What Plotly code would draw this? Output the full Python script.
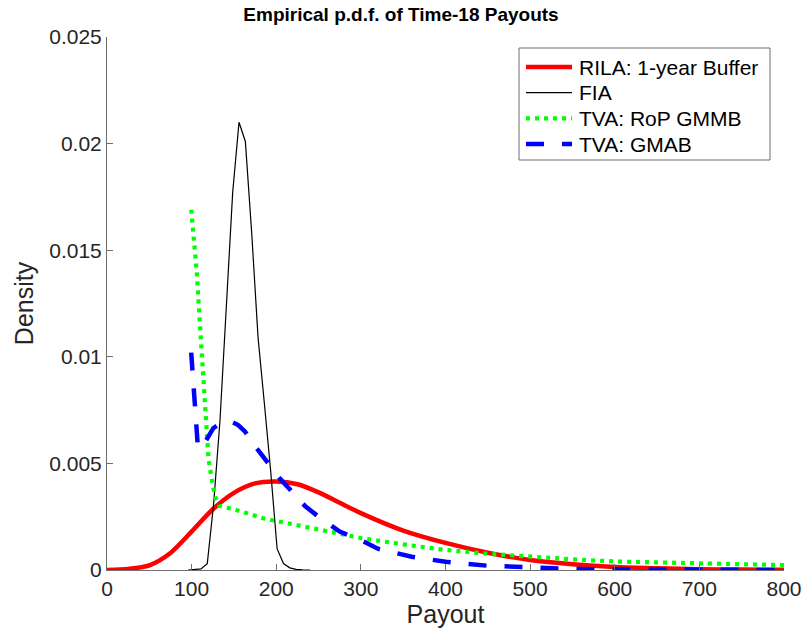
import plotly.graph_objects as go

# values
rila_x = [0, 25, 50, 75, 100, 125, 150, 175, 200, 225, 250, 275, 300, 350, 400,
          450, 500, 550, 600, 650, 700, 750, 800]
rila_y = [0, 0.00005, 0.00022, 0.00080, 0.00180, 0.00285, 0.00362, 0.00406, 0.00415,
          0.00402, 0.00364, 0.00315, 0.00267, 0.00185, 0.00127, 0.00081, 0.00047,
          0.00027, 0.00014, 0.00008, 0.00004, 0.00002, 0.00001]

fia_x = [96, 103.5, 111, 118.5, 126, 133.5, 141, 148.5, 156, 163.5, 171, 178.5, 186,
         193.5, 201, 208.5, 216, 223.5, 231, 240]
fia_y = [0, 0.00001, 0.00005, 0.0003, 0.0031, 0.0070, 0.0122, 0.0177, 0.0210, 0.0201,
         0.0158, 0.0109, 0.0078, 0.0046, 0.0010, 0.0003, 0.0001, 0.00003, 0.00001, 0]

rop_x = [99.5, 103, 106, 110, 113, 117, 120, 124, 128, 133, 150, 185, 225, 260, 300,
         350, 400, 450, 500, 550, 600, 650, 700, 750, 800]
rop_y = [0.0169, 0.0155, 0.0140, 0.0114, 0.0094, 0.0068, 0.0052, 0.0042, 0.0034,
         0.0030, 0.00285, 0.00242, 0.0021, 0.0018, 0.0015, 0.0012, 0.00094, 0.00076,
         0.00062, 0.0005, 0.0004, 0.00035, 0.0003, 0.00026, 0.00023]

gmab_x = [99.5, 103, 107.5, 116, 125.6, 135, 145, 155, 163, 177, 189, 204, 218, 234,
          250, 275, 300, 320, 360, 400, 450, 500, 550, 600, 700, 800]
gmab_y = [0.0102, 0.0082, 0.0057, 0.0060, 0.00665, 0.0069, 0.0070, 0.0068, 0.0065,
          0.0057, 0.0051, 0.0043, 0.0037, 0.0030, 0.0025, 0.0018, 0.0014, 0.0010,
          0.00062, 0.00039, 0.0002, 0.0001, 0.00005, 0.00003, 0.00001, 0]

y_ticks = [0, 0.005, 0.01, 0.015, 0.02, 0.025]
y_labels = ["0", "0.005", "0.01", "0.015", "0.02", "0.025"]
x_ticks = [0, 100, 200, 300, 400, 500, 600, 700, 800]

font = "Liberation Sans, Arial, sans-serif"
ink = "#262626"
axis_grey = "#6e6e6e"

W, H = 802, 635
L, R, T, B = 107, 18, 37, 65
pw, ph = W - L - R, H - T - B


def px_x(p):  # pixel column -> paper x
    return (p - L) / pw


def px_y(p):  # pixel row -> paper y
    return (H - B - p) / ph


series = [
    ("RILA: 1-year Buffer", rila_x, rila_y, dict(color="#ff0000", width=4.5, shape="spline", smoothing=0.8)),
    ("FIA", fia_x, fia_y, dict(color="#000000", width=1.2)),
    ("TVA: RoP GMMB", rop_x, rop_y, dict(color="#00ff00", width=4.2, dash="4px,5px")),
    ("TVA: GMAB", gmab_x, gmab_y, dict(color="#0000ff", width=4.5, dash="18px,18px")),
]

fig = go.Figure()
shapes, annotations = [], []
# legend box (MATLAB style, tight rows)
shapes.append(dict(type="rect", xref="paper", yref="paper", x0=px_x(519), x1=px_x(770),
                   y0=px_y(160), y1=px_y(48), line=dict(color=axis_grey, width=1),
                   fillcolor="white", layer="above"))
for i, (name, xs, ys, ln) in enumerate(series):
    fig.add_trace(go.Scatter(x=xs, y=ys, mode="lines", name=name, line=ln, showlegend=False))
    row = 67 + i * 25.7
    sample = {k: v for k, v in ln.items() if k in ("color", "width", "dash")}
    shapes.append(dict(type="line", xref="paper", yref="paper", x0=px_x(526), x1=px_x(572),
                       y0=px_y(row), y1=px_y(row), line=sample, layer="above"))
    annotations.append(dict(text=name, xref="paper", yref="paper", x=px_x(577), y=px_y(row),
                            xanchor="left", yanchor="middle", showarrow=False,
                            font=dict(family=font, size=21, color="#000000")))

fig.update_layout(
    width=W, height=H,
    margin=dict(l=L, r=R, t=T, b=B),
    paper_bgcolor="white", plot_bgcolor="white",
    font=dict(family=font, size=21, color=ink),
    title=dict(text="<b>Empirical p.d.f. of Time-18 Payouts</b>", x=0.5, xanchor="center",
               y=1 - 14 / H, yanchor="middle",
               font=dict(family=font, size=19, color="#000000")),
    showlegend=False,
    shapes=shapes,
    annotations=annotations,
)
fig.update_xaxes(range=[0, 800], tickvals=x_ticks, ticks="inside", ticklen=6,
                 tickcolor=axis_grey, showline=True, linecolor=axis_grey, linewidth=1,
                 showgrid=False, zeroline=False, mirror=False, automargin=False,
                 title=dict(text="Payout", standoff=6))
fig.update_yaxes(range=[0, 0.025], tickvals=y_ticks, ticktext=y_labels, ticks="inside",
                 ticklen=6, tickcolor=axis_grey, showline=True, linecolor=axis_grey, linewidth=1,
                 showgrid=False, zeroline=False, mirror=False, automargin=False,
                 title=dict(text="Density", standoff=8))

# drop the default 8px page margin so the figure sits at the window corner
fig.write_html("out.html", config={"displayModeBar": False},
               post_script="document.body.style.margin='0';document.body.style.overflow='hidden';")
